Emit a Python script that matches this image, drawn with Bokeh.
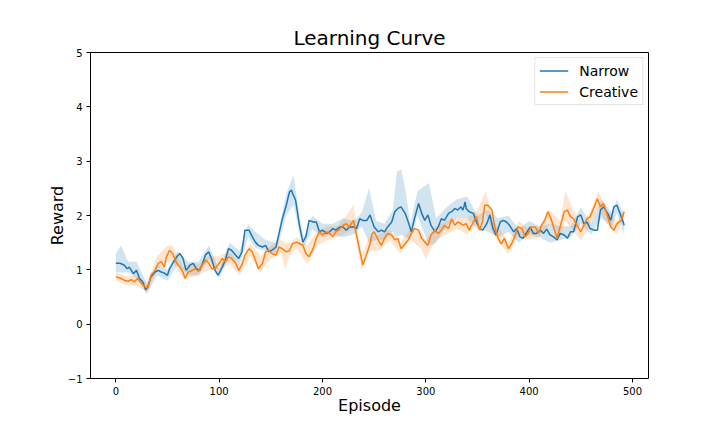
import numpy as np
from bokeh.plotting import figure
from bokeh.models import ColumnDataSource, Range1d, FixedTicker, Legend, LegendItem
from bokeh.embed import file_html
from bokeh.resources import INLINE

# ---------------- data ----------------
narrow_ep = [0, 4, 8, 11, 13, 17, 20, 23, 26, 29, 31, 34, 38, 41, 44, 47, 50, 52, 55, 59, 62, 65, 68, 72, 75, 78, 81, 84, 87, 90,
             93, 96, 99, 103, 106, 109, 112, 116, 119, 122, 125, 129, 132, 135, 138, 142, 145, 148, 151, 155, 158, 161, 165, 168,
             170, 171, 174, 178, 181, 184, 187, 191, 194, 197, 200, 204, 207, 210, 213, 217, 220, 223, 226, 230, 233, 236, 239,
             243, 246, 250, 254, 257, 260, 263, 267, 270, 273, 276, 280, 283, 286, 289, 293, 296, 299, 302, 305, 309, 312, 315,
             318, 322, 325, 328, 331, 334, 336, 338, 339, 342, 346, 349, 352, 355, 359, 362, 365, 368, 372, 375, 378, 381, 385,
             388, 391, 394, 398, 401, 404, 407, 411, 414, 417, 420, 424, 427, 430, 434, 437, 440, 443, 447, 450, 453, 456, 459,
             463, 466, 469, 472, 476, 479, 482, 485, 489, 492]
narrow_reward = [1.12, 1.12, 1.09, 1.02, 1.05, 0.93, 0.99, 0.84, 0.78, 0.63, 0.69, 0.87, 0.96, 0.99, 0.96, 0.94, 0.90, 1.02, 1.12,
                 1.24, 1.30, 1.21, 0.99, 1.09, 1.12, 1.02, 0.99, 1.12, 1.28, 1.33, 1.18, 0.99, 0.90, 1.05, 1.18, 1.39, 1.36, 1.27,
                 1.21, 1.33, 1.73, 1.73, 1.61, 1.51, 1.45, 1.42, 1.45, 1.33, 1.36, 1.42, 1.67, 1.93, 2.19, 2.43, 2.47, 2.41, 2.28,
                 1.79, 1.51, 1.61, 1.91, 1.88, 1.88, 1.70, 1.73, 1.67, 1.70, 1.76, 1.73, 1.79, 1.79, 1.73, 1.79, 1.79, 1.76, 1.94,
                 1.91, 1.91, 2.01, 1.79, 1.70, 1.73, 1.70, 1.79, 1.88, 2.07, 2.13, 2.16, 2.04, 1.88, 1.70, 1.94, 2.22, 2.04, 1.91,
                 2.01, 1.82, 1.70, 1.79, 1.94, 1.91, 2.04, 2.07, 2.13, 2.10, 2.16, 2.10, 2.25, 2.13, 2.07, 2.04, 1.88, 1.76, 1.73,
                 1.85, 2.01, 1.76, 1.64, 1.88, 1.91, 1.88, 1.82, 1.70, 1.76, 1.61, 1.58, 1.70, 1.79, 1.67, 1.67, 1.73, 1.67, 1.75,
                 1.65, 1.60, 1.55, 1.67, 1.64, 1.58, 1.70, 1.70, 1.98, 2.01, 1.85, 1.88, 1.76, 1.73, 1.73, 2.10, 2.16, 2.04, 1.91,
                 2.16, 2.19, 1.98, 1.82]

creative_ep = [0, 4, 8, 12, 15, 18, 21, 25, 28, 31, 34, 38, 41, 44, 47, 49, 52, 55, 59, 62, 65, 67, 70, 73, 77, 80, 83, 87, 90,
               93, 96, 100, 103, 106, 109, 112, 116, 119, 122, 125, 129, 132, 135, 138, 142, 145, 148, 151, 155, 158, 161, 165,
               168, 171, 175, 178, 181, 184, 187, 191, 194, 197, 200, 204, 207, 210, 213, 217, 220, 223, 226, 230, 233, 236, 239,
               243, 246, 248, 250, 254, 257, 260, 263, 267, 270, 273, 276, 280, 283, 286, 289, 293, 296, 299, 302, 305, 309, 312,
               315, 318, 322, 325, 328, 331, 334, 336, 339, 342, 346, 349, 352, 355, 357, 360, 364, 367, 370, 373, 376, 380, 383,
               386, 389, 393, 396, 399, 402, 406, 409, 412, 415, 418, 421, 424, 427, 430, 434, 437, 440, 443, 447, 450, 453, 456,
               459, 463, 466, 469, 472, 476, 479, 482, 485, 489, 492]
creative_reward = [0.87, 0.85, 0.81, 0.79, 0.82, 0.78, 0.84, 0.75, 0.69, 0.66, 0.90, 0.99, 1.12, 1.15, 1.05, 1.24, 1.36, 1.30,
                   1.12, 1.05, 0.96, 0.84, 0.96, 0.98, 1.02, 0.97, 1.07, 1.18, 1.12, 1.02, 1.02, 1.12, 1.21, 1.15, 1.24, 1.21,
                   1.12, 0.99, 1.09, 1.27, 1.39, 1.33, 1.18, 1.02, 1.12, 1.33, 1.36, 1.30, 1.27, 1.42, 1.39, 1.33, 1.35, 1.48,
                   1.51, 1.48, 1.45, 1.30, 1.24, 1.39, 1.58, 1.70, 1.64, 1.70, 1.67, 1.61, 1.70, 1.76, 1.82, 1.85, 1.79, 1.91,
                   1.64, 1.36, 1.09, 1.30, 1.48, 1.66, 1.70, 1.55, 1.45, 1.58, 1.67, 1.64, 1.55, 1.58, 1.39, 1.48, 1.55, 1.67,
                   1.76, 1.73, 1.58, 1.51, 1.45, 1.64, 1.73, 1.67, 1.73, 1.82, 1.76, 1.94, 1.82, 1.88, 1.85, 1.82, 1.85, 1.73,
                   1.88, 1.98, 1.73, 1.90, 2.19, 2.19, 2.10, 1.76, 1.58, 1.48, 1.58, 1.39, 1.48, 1.61, 1.79, 1.76, 1.61, 1.67,
                   1.79, 1.79, 1.67, 1.82, 1.91, 2.07, 1.95, 1.76, 1.58, 1.79, 2.07, 2.10, 1.98, 1.94, 1.79, 1.70, 1.82, 1.94,
                   1.98, 2.16, 2.31, 2.16, 2.22, 1.98, 1.79, 1.73, 1.85, 1.91, 2.07]

# shaded bands (lower / upper bound)
narrow_band_ep = [0, 5, 12, 20, 30, 40, 50, 60, 70, 80, 90, 100, 110, 120, 128, 135, 145, 155, 165, 172, 178, 182, 190, 200,
                  210, 220, 230, 238, 245, 252, 260, 268, 272, 276, 280, 285, 292, 303, 310, 320, 330, 340, 350, 360, 370, 380,
                  390, 400, 410, 420, 430, 440, 450, 460, 470, 480, 485, 492]
narrow_lo = [0.95, 0.95, 0.95, 0.85, 0.55, 0.90, 0.80, 1.10, 0.90, 0.90, 1.20, 0.85, 1.25, 1.10, 1.60, 1.40, 1.35, 1.30, 2.00,
             2.20, 1.65, 1.40, 1.75, 1.60, 1.65, 1.60, 1.65, 1.80, 1.50, 1.55, 1.55, 1.70, 1.60, 1.65, 1.60, 1.55, 2.00, 1.45,
             1.50, 1.80, 1.95, 1.95, 1.75, 1.70, 1.60, 1.70, 1.50, 1.65, 1.60, 1.50, 1.55, 1.60, 1.85, 1.65, 1.95, 1.80, 2.05,
             1.65]
narrow_hi = [1.30, 1.45, 1.15, 1.15, 0.75, 1.10, 1.00, 1.35, 1.15, 1.15, 1.45, 1.00, 1.50, 1.35, 1.85, 1.70, 1.55, 1.50, 2.40,
             2.75, 1.95, 1.60, 2.00, 1.85, 1.85, 1.95, 1.90, 2.05, 2.50, 1.90, 1.85, 2.10, 2.80, 2.85, 2.50, 1.85, 2.45, 2.60,
             1.95, 2.15, 2.30, 2.35, 2.00, 2.10, 1.95, 2.00, 1.75, 1.90, 1.80, 1.85, 1.80, 1.80, 2.15, 1.85, 2.30, 2.05, 2.30,
             2.00]

creative_band_ep = [0, 10, 20, 30, 40, 50, 55, 65, 70, 80, 90, 100, 110, 120, 130, 140, 150, 160, 164, 168, 175, 185, 195, 205,
                    215, 225, 230, 238, 245, 255, 265, 275, 285, 295, 300, 310, 320, 330, 340, 350, 358, 365, 375, 380, 390,
                    400, 410, 420, 430, 435, 450, 460, 467, 475, 485, 492]
creative_lo = [0.80, 0.72, 0.70, 0.60, 1.00, 1.15, 1.15, 0.85, 0.85, 0.90, 1.00, 1.00, 1.10, 0.90, 1.25, 0.95, 1.20, 1.30, 1.00,
               1.25, 1.40, 1.10, 1.45, 1.55, 1.60, 1.70, 1.75, 1.00, 1.35, 1.35, 1.55, 1.30, 1.55, 1.40, 1.20, 1.55, 1.65, 1.75,
               1.65, 1.85, 2.05, 1.65, 1.40, 1.30, 1.65, 1.55, 1.60, 1.85, 1.60, 1.90, 1.55, 1.85, 2.15, 1.85, 1.65, 1.95]
creative_hi = [0.95, 0.88, 0.90, 0.75, 1.25, 1.45, 1.45, 1.05, 1.10, 1.10, 1.25, 1.25, 1.35, 1.10, 1.50, 1.25, 1.45, 1.55, 1.50,
               1.50, 1.60, 1.45, 1.70, 1.80, 1.80, 2.05, 2.20, 1.25, 1.60, 1.65, 1.75, 1.50, 1.75, 1.70, 1.55, 1.80, 1.90, 1.95,
               1.95, 2.10, 2.45, 1.90, 1.65, 1.50, 1.90, 1.75, 1.80, 2.10, 1.90, 2.45, 1.80, 2.10, 2.45, 2.10, 1.90, 2.15]

x_ticks = [0, 100, 200, 300, 400, 500]
y_ticks = [-1, 0, 1, 2, 3, 4, 5]

BLUE = "#1f77b4"
ORANGE = "#ff7f0e"
FONT = "DejaVu Sans"

# ---------------- figure ----------------
p = figure(frame_width=558, frame_height=326, output_backend="svg", toolbar_location=None,
           x_range=Range1d(-24.5, 515.5), y_range=Range1d(-1, 5),
           min_border_left=90, min_border_right=64, min_border_top=52, min_border_bottom=46,
           background_fill_color="white", border_fill_color="white")

p.title.text = "Learning Curve"
p.title.align = "center"
p.title.text_font = FONT
p.title.text_font_size = "20px"
p.title.text_font_style = "normal"
p.title.text_color = "black"
p.title.standoff = 5

p.outline_line_color = "black"
p.outline_line_width = 1
p.outline_line_alpha = 1
p.xgrid.visible = False
p.ygrid.visible = False

for ax in (p.xaxis[0], p.yaxis[0]):
    ax.axis_line_color = None
    ax.major_tick_line_color = "black"
    ax.major_tick_out = 4
    ax.major_tick_in = 0
    ax.minor_tick_line_color = None
    ax.major_label_text_font = FONT
    ax.major_label_text_font_size = "10px"
    ax.major_label_text_color = "black"
    ax.axis_label_text_font = FONT
    ax.axis_label_text_font_size = "16px"
    ax.axis_label_text_font_style = "normal"
    ax.axis_label_text_color = "black"

p.xaxis.ticker = FixedTicker(ticks=x_ticks)
p.yaxis.ticker = FixedTicker(ticks=y_ticks)
p.xaxis.major_label_standoff = 4
p.yaxis.major_label_standoff = 4
p.xaxis.axis_label = "Episode"
p.yaxis.axis_label = "Reward"
p.xaxis.axis_label_standoff = -2
p.yaxis.axis_label_standoff = -2

nb = ColumnDataSource(dict(x=narrow_band_ep, lo=narrow_lo, hi=narrow_hi))
cb = ColumnDataSource(dict(x=creative_band_ep, lo=creative_lo, hi=creative_hi))
p.varea(x="x", y1="lo", y2="hi", source=nb, fill_color=BLUE, fill_alpha=0.2)
p.varea(x="x", y1="lo", y2="hi", source=cb, fill_color=ORANGE, fill_alpha=0.2)

n_line = p.line(narrow_ep, narrow_reward, line_color=BLUE, line_width=1.5)
c_line = p.line(creative_ep, creative_reward, line_color=ORANGE, line_width=1.5)

legend = Legend(items=[LegendItem(label="Narrow", renderers=[n_line]),
                       LegendItem(label="Creative", renderers=[c_line])],
                location="top_right")
legend.label_text_font = FONT
legend.label_text_font_size = "14px"
legend.label_text_color = "black"
legend.glyph_width = 29
legend.glyph_height = 17
legend.label_standoff = 11
legend.spacing = 4
legend.padding = 4
legend.margin = 5
legend.border_line_color = "#cccccc"
legend.border_line_width = 1
legend.background_fill_alpha = 0.8
p.add_layout(legend)

open("out.html", "w").write(file_html(p, INLINE))
